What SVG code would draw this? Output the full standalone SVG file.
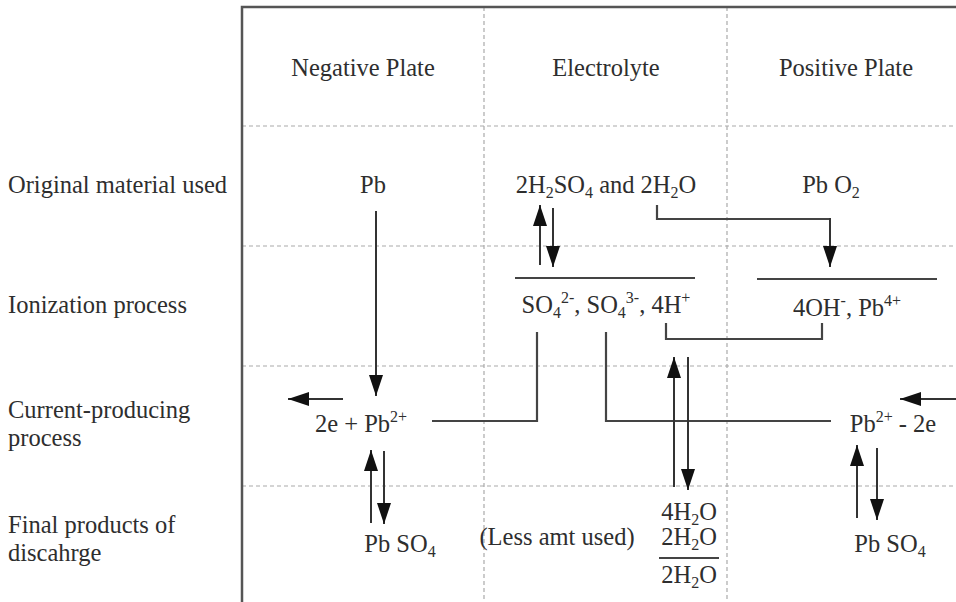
<svg xmlns="http://www.w3.org/2000/svg" width="956" height="602" viewBox="0 0 956 602">
<defs>
<marker id="ah" markerUnits="userSpaceOnUse" markerWidth="22" markerHeight="16" refX="21" refY="7" orient="auto">
<path d="M0,0 L21,7 L0,14 z" fill="#111"/>
</marker>
<style>
text{font-family:"Liberation Serif","Times New Roman",serif;font-size:24.5px;fill:#2e2e2e}
.c{text-anchor:middle}
.s{font-size:16px}
.grid{stroke:#aaa;stroke-width:1.2;stroke-dasharray:4 3;fill:none}
.border{stroke:#555;stroke-width:2.5;fill:none}
.ln{stroke:#444;stroke-width:2.2;fill:none}
.ar{stroke:#333;stroke-width:2;fill:none;marker-end:url(#ah)}
</style>
</defs>
<rect width="956" height="602" fill="#fff"/>
<g id="grid">
<line class="grid" x1="242" y1="126" x2="956" y2="126"/>
<line class="grid" x1="242" y1="246" x2="956" y2="246"/>
<line class="grid" x1="242" y1="366" x2="956" y2="366"/>
<line class="grid" x1="242" y1="486" x2="956" y2="486"/>
<line class="grid" x1="484" y1="7" x2="484" y2="602"/>
<line class="grid" x1="727" y1="7" x2="727" y2="602"/>
<path class="border" d="M242,602 V7 H956"/>
</g>
<g id="headers">
<text class="c" x="363" y="76">Negative Plate</text>
<text class="c" x="606" y="76">Electrolyte</text>
<text class="c" x="846" y="76">Positive Plate</text>
</g>
<g id="row-labels">
<text x="8" y="193">Original material used</text>
<text x="8" y="313">Ionization process</text>
<text x="8" y="418">Current-producing</text>
<text x="8" y="446">process</text>
<text x="8" y="533">Final products of</text>
<text x="8" y="561">discahrge</text>
</g>
<g id="n-pb"><text class="c" x="373" y="193">Pb</text></g>
<g id="n-h2so4"><text class="c" x="606" y="193">2H<tspan class="s" dy="5">2</tspan><tspan dy="-5">SO</tspan><tspan class="s" dy="5">4</tspan><tspan dy="-5"> and 2H</tspan><tspan class="s" dy="5">2</tspan><tspan dy="-5">O</tspan></text></g>
<g id="n-pbo2"><text class="c" x="831" y="193">Pb O<tspan class="s" dy="5">2</tspan></text></g>
<g id="n-ions"><text class="c" x="606" y="313">SO<tspan class="s" dy="5">4</tspan><tspan class="s" dy="-15">2-</tspan><tspan dy="10">, SO</tspan><tspan class="s" dy="5">4</tspan><tspan class="s" dy="-15">3-</tspan><tspan dy="10">, 4H</tspan><tspan class="s" dy="-10">+</tspan></text>
<line class="ln" x1="515" y1="278" x2="695" y2="278"/></g>
<g id="n-oh"><text class="c" x="847" y="316">4OH<tspan class="s" dy="-10">-</tspan><tspan dy="10">, Pb</tspan><tspan class="s" dy="-10">4+</tspan></text>
<line class="ln" x1="757" y1="279" x2="937" y2="279"/></g>
<g id="n-neg-cur"><text class="c" x="361" y="432">2e + Pb<tspan class="s" dy="-10">2+</tspan></text></g>
<g id="n-pos-cur"><text class="c" x="893" y="432">Pb<tspan class="s" dy="-10">2+</tspan><tspan dy="10"> - 2e</tspan></text></g>
<g id="n-neg-pbso4"><text class="c" x="400" y="552">Pb SO<tspan class="s" dy="5">4</tspan></text></g>
<g id="n-pos-pbso4"><text class="c" x="890" y="552">Pb SO<tspan class="s" dy="5">4</tspan></text></g>
<g id="n-less"><text class="c" x="557" y="545">(Less amt used)</text></g>
<g id="n-water">
<text class="c" x="689" y="520">4H<tspan class="s" dy="5">2</tspan><tspan dy="-5">O</tspan></text>
<text class="c" x="689" y="545">2H<tspan class="s" dy="5">2</tspan><tspan dy="-5">O</tspan></text>
<line class="ln" x1="659" y1="558" x2="719" y2="558"/>
<text class="c" x="689" y="583">2H<tspan class="s" dy="5">2</tspan><tspan dy="-5">O</tspan></text>
</g>
<g id="connectors">
<line class="ar" x1="376" y1="211" x2="376" y2="396"/>
<line class="ar" x1="540" y1="265" x2="540" y2="205"/>
<line class="ar" x1="553" y1="208" x2="553" y2="267"/>
<path class="ln" d="M657,205 V219 H830"/>
<line class="ar" x1="830" y1="218" x2="830" y2="267"/>
<path class="ln" d="M666,323 V339 H822 V323"/>
<path class="ln" d="M537,332 V421 H432"/>
<path class="ln" d="M606,332 V421 H831"/>
<line class="ar" x1="674" y1="487" x2="674" y2="357"/>
<line class="ar" x1="688" y1="357" x2="688" y2="490"/>
<line class="ar" x1="343" y1="399" x2="288" y2="399"/>
<line class="ar" x1="956" y1="399" x2="900" y2="399"/>
<line class="ar" x1="371" y1="523" x2="371" y2="450"/>
<line class="ar" x1="384" y1="451" x2="384" y2="524"/>
<line class="ar" x1="857" y1="518" x2="857" y2="445"/>
<line class="ar" x1="877" y1="448" x2="877" y2="520"/>
</g>
</svg>
